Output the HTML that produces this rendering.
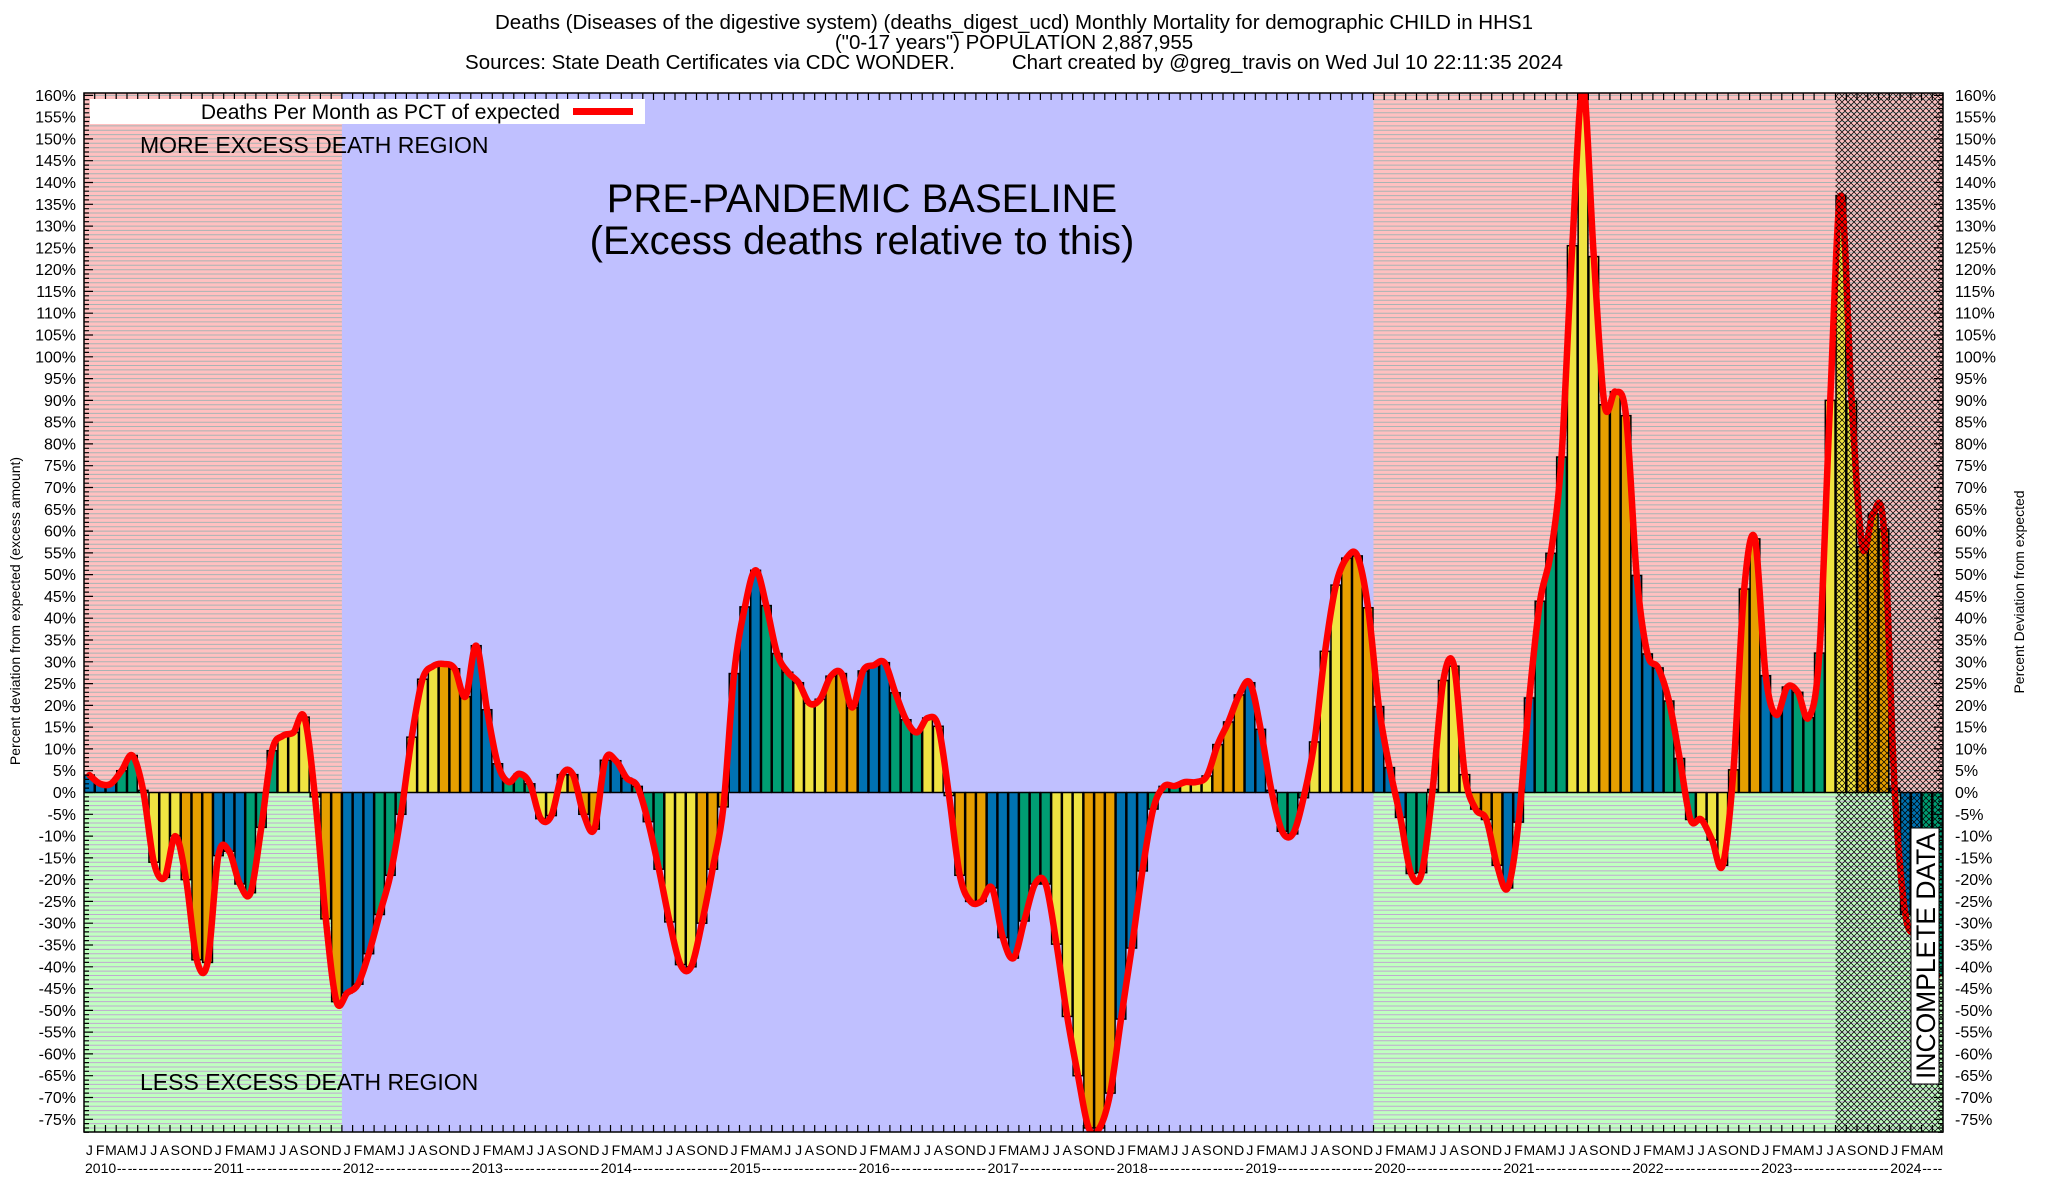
<!DOCTYPE html>
<html><head><meta charset="utf-8"><title>Monthly Mortality Chart</title>
<style>
html,body{margin:0;padding:0;background:#fff;}
svg{display:block;font-family:"Liberation Sans",Arial,sans-serif;}
</style></head>
<body>
<svg id="chart" xmlns="http://www.w3.org/2000/svg" width="2048" height="1200" viewBox="0 0 2048 1200">
<defs>
<pattern id="xhatch" width="6" height="6" patternUnits="userSpaceOnUse">
<path d="M0,0 L6,6 M6,0 L0,6" stroke="#000" stroke-width="0.75" fill="none"/>
</pattern>
<clipPath id="plotclip"><rect x="84" y="93" width="1859" height="1039"/></clipPath>
</defs>
<g font-size="20.5" text-anchor="middle" fill="#000">
<text x="1014" y="29">Deaths (Diseases of the digestive system) (deaths_digest_ucd) Monthly Mortality for demographic CHILD in HHS1</text>
<text x="1014" y="49">("0-17 years") POPULATION 2,887,955</text>
<text x="1014" y="69" xml:space="preserve">Sources: State Death Certificates via CDC WONDER.          Chart created by @greg_travis on Wed Jul 10 22:11:35 2024</text>
</g>
<g id="bg" clip-path="url(#plotclip)"></g>
<g id="bars" clip-path="url(#plotclip)"></g>
<g id="line" clip-path="url(#plotclip)"></g>
<g id="hatch" clip-path="url(#plotclip)"></g>
<g id="axes"></g>
<g id="labels"></g>
</svg>
<script>
// ---- data ----
const years = ["2010","2011","2012","2013","2014","2015","2016","2017","2018","2019","2020","2021","2022","2023","2024"];
const monthLetters = ["J","F","M","A","M","J","J","A","S","O","N","D"];
const values = [
4,2,2,5,8.5,0.5,-16,-19.5,-10,-20,-38.4,-39,
-14.5,-13.5,-21,-23,-8,9.6,13,13.8,17.3,-1,-29,-48,
-46,-44,-37,-28,-19,-5,12.7,26,29,29.5,28.4,22,
33.7,19,6.6,2.4,4.3,2,-6,-5.3,4.1,4.1,-5,-8.4,
7.4,7.3,3.3,1.4,-6.7,-17.6,-29.7,-39.5,-40,-30,-17.6,-3.3,
27.3,42.6,51,42.9,31.9,27.6,25.2,20.5,21.4,26.7,27.3,19.5,
27.9,29.2,29.8,22.9,16.7,13.8,17.1,15.2,-0.7,-19,-25,-25,
-21.9,-33.3,-38,-29.5,-21,-21,-34.8,-51.4,-65,-77,-77,-69,
-52,-35.7,-18,-3.8,1.4,1.5,2.4,2.4,3.8,11,16.2,22.4,
25.2,14.5,0.5,-8.9,-9.5,-1.2,11.6,32.4,47.6,53.8,54.3,42.4,
19.7,5.7,-5.7,-18.6,-18.4,0.7,25.7,29,4.1,-3.8,-6.2,-16.7,
-21.9,-6.8,21.7,43.9,54.9,77,125.5,162,123,89,92,86.5,
49.8,31.8,28.6,21,7.8,-6.2,-6.2,-10.9,-16.7,5.2,46.7,58.2,
26.8,17.8,24.2,23,17.2,32,90,137,89.8,56.4,64,60.5,
1,-28,-33,-38,-42
];
const yTicks = [160,155,150,145,140,135,130,125,120,115,110,105,100,95,90,85,80,75,70,65,60,55,50,45,40,35,30,25,20,15,10,5,0,-5,-10,-15,-20,-25,-30,-35,-40,-45,-50,-55,-60,-65,-70,-75];
const baselineStart = 24;   // Jan 2012
const baselineEnd = 120;    // Jan 2020
const incompleteStart = 163; // Aug 2023

// ---- geometry ----
const NS = "http://www.w3.org/2000/svg";
const PL = 84, PR = 1943, PT = 93, PB = 1132;
const N = values.length;
const STEP = (PR - PL) / N;
function xLeft(i){ return PL + i * STEP; }
function xCenter(i){ return PL + (i + 0.5) * STEP; }
function y(v){ return 792.5 - v * 4.357; }
const Y0 = y(0);
const seasonColors = ["#0072b2","#009e73","#f0e442","#e69f00"];

function mk(tag, attrs, parent){
  const e = document.createElementNS(NS, tag);
  for (const k in attrs) e.setAttribute(k, attrs[k]);
  parent.appendChild(e);
  return e;
}
const bg = document.getElementById("bg");
const barsG = document.getElementById("bars");
const hatchG = document.getElementById("hatch");
const lineG = document.getElementById("line");
const axes = document.getElementById("axes");
const labels = document.getElementById("labels");

// ---- backgrounds ----
let r;
r = mk("rect",{x:PL,y:PT,width:PR-PL,height:PB-PT,fill:"#c0c0ff"},bg);


function region(x1,x2,nm){
  let a = mk("rect",{x:x1,y:PT,width:x2-x1,height:Y0-PT,fill:"#ffc0c0"},bg);
  
  
  let b = mk("rect",{x:x1,y:Y0,width:x2-x1,height:PB-Y0,fill:"#c0ffc0"},bg);
  
  
  let d = "";
  for (let p=1;p<=161;p++){ const yy=y(p); if(yy>PT) d+="M"+x1+","+yy.toFixed(1)+"H"+x2; }
  let g1 = mk("path",{d:d,stroke:"#a8b4b4","stroke-width":1,fill:"none"},bg);
  
  
  d = "";
  for (let p=1;p<=79;p++){ const yy=y(-p); if(yy<PB) d+="M"+x1+","+yy.toFixed(1)+"H"+x2; }
  let g2 = mk("path",{d:d,stroke:"#c0a8d0","stroke-width":1,fill:"none"},bg);
  
  
}
region(PL, xLeft(baselineStart), "early");
region(xLeft(baselineEnd), PR, "pandemic");

// ---- bars ----
for (let i=0;i<N;i++){
  const v = values[i];
  const top = Math.min(y(v),Y0), h = Math.abs(y(v)-Y0);
  const b = mk("rect",{x:(xLeft(i)+0.5).toFixed(2),y:top.toFixed(2),width:(STEP-1).toFixed(2),height:h.toFixed(2),
    fill:seasonColors[Math.floor((i%12)/3)],stroke:"#000","stroke-width":1.5},barsG);
  
  
}

// ---- smoothed line ----
const pts = values.map((v,i)=>[xCenter(i), y(v)]);
let d = "M"+pts[0][0].toFixed(1)+","+pts[0][1].toFixed(1);
for (let i=0;i<pts.length-1;i++){
  const p0=pts[Math.max(0,i-1)], p1=pts[i], p2=pts[i+1], p3=pts[Math.min(pts.length-1,i+2)];
  const c1x=p1[0]+(p2[0]-p0[0])/6, c1y=p1[1]+(p2[1]-p0[1])/6;
  const c2x=p2[0]-(p3[0]-p1[0])/6, c2y=p2[1]-(p3[1]-p1[1])/6;
  d+="C"+c1x.toFixed(1)+","+c1y.toFixed(1)+" "+c2x.toFixed(1)+","+c2y.toFixed(1)+" "+p2[0].toFixed(1)+","+p2[1].toFixed(1);
}
const ln = mk("path",{d:d,stroke:"#ff0000","stroke-width":6.5,fill:"none","stroke-linejoin":"round","stroke-linecap":"round"},lineG);



// ---- incomplete hatch ----
const hx = mk("rect",{x:xLeft(incompleteStart),y:PT,width:PR-xLeft(incompleteStart),height:PB-PT,fill:"url(#xhatch)"},hatchG);



// ---- axes frame & ticks ----
const fr = mk("rect",{x:PL,y:PT,width:PR-PL,height:PB-PT,fill:"none",stroke:"#000","stroke-width":1.5},axes);


let td="";
for (let p=-78;p<=160;p++){
  const yy=y(p).toFixed(1), L=(p%5===0)?9:5;
  td+="M"+PL+","+yy+"h"+L+"M"+PR+","+yy+"h-"+L;
}
for (let i=0;i<=N;i++){
  const xx=xLeft(i).toFixed(1);
  td+="M"+xx+","+PT+"v7M"+xx+","+PB+"v-7";
}
const tk = mk("path",{d:td,stroke:"#000","stroke-width":1.2,fill:"none"},axes);



// y tick labels
yTicks.forEach(t=>{
  let a = mk("text",{x:76,y:(y(t)+5.5).toFixed(1),"font-size":16,"text-anchor":"end"},labels);
  a.textContent = t+"%";
  
  
  let b = mk("text",{x:1955,y:(y(t)+5.5).toFixed(1),"font-size":16,"text-anchor":"start"},labels);
  b.textContent = t+"%";
  
  
});

// x labels
for (let i=0;i<N;i++){
  const m=i%12;
  let a = mk("text",{x:xCenter(i).toFixed(1),y:1155,"font-size":14,"text-anchor":"middle"},labels);
  a.textContent = monthLetters[m];
  
  
  if (m===0){
    let b = mk("text",{x:(xLeft(i)+1).toFixed(1),y:1173,"font-size":14,"text-anchor":"start"},labels);
    b.textContent = years[Math.floor(i/12)];
    
    
  } else if (m>=3){
    let c = mk("text",{x:xCenter(i).toFixed(1),y:1173,"font-size":14,"text-anchor":"middle"},labels);
    c.textContent = "--";
    
    
  }
}
</script>
<script>
const S = document.getElementById("chart");
const NS2 = "http://www.w3.org/2000/svg";
function t2(attrs, txt){
  const e=document.createElementNS(NS2,"text");
  for(const k in attrs) e.setAttribute(k,attrs[k]);
  e.textContent=txt; S.appendChild(e); return e;
}
function r2(attrs){
  const e=document.createElementNS(NS2,"rect");
  for(const k in attrs) e.setAttribute(k,attrs[k]);
  S.appendChild(e); return e;
}
let e;
e=r2({x:90,y:99,width:555,height:25,fill:"#fff"});


e=t2({x:560,y:119,"font-size":21,"text-anchor":"end"},"Deaths Per Month as PCT of expected");


e=r2({x:573,y:108,width:60,height:7,fill:"#ff0000"});


e=t2({x:140,y:153,"font-size":23},"MORE EXCESS DEATH REGION");


e=t2({x:140,y:1090,"font-size":23},"LESS EXCESS DEATH REGION");


e=t2({x:862,y:212,"font-size":40,"text-anchor":"middle"},"PRE-PANDEMIC BASELINE");


e=t2({x:862,y:254,"font-size":40,"text-anchor":"middle"},"(Excess deaths relative to this)");


e=r2({x:1911,y:828,width:28,height:256,fill:"#fff",stroke:"#000","stroke-width":1});


e=t2({x:0,y:0,"font-size":27,"text-anchor":"middle",textLength:"246",lengthAdjust:"spacingAndGlyphs",transform:"translate(1935,956) rotate(-90)"},"INCOMPLETE DATA");


e=t2({x:0,y:0,"font-size":14,"text-anchor":"middle",transform:"translate(20,611) rotate(-90)"},"Percent deviation from expected (excess amount)");


e=t2({x:0,y:0,"font-size":14,"text-anchor":"middle",transform:"translate(2024,592) rotate(-90)"},"Percent Deviation from expected");


</script>
</body></html>
